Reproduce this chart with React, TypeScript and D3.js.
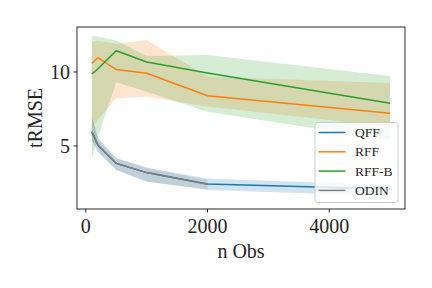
import React from "react";
import * as d3 from "d3";

// n observations
const nObs = [100, 200, 500, 1000, 2000, 5000];
const nObsOdin = [100, 200, 500, 1000, 2000];

// mean tRMSE and band (lower / upper) per method
const qffMean = [5.95, 5.05, 3.82, 3.2, 2.43, 2.09];
const qffLow = [5.35, 4.6, 3.38, 2.6, 2.03, 1.62];
const qffHigh = [6.95, 5.5, 4.17, 3.53, 2.8, 2.36];

const rffMean = [10.59, 10.97, 10.16, 9.91, 8.4, 7.21];
const rffLow = [6.2, 6.8, 8.22, 8.33, 7.66, 6.3];
const rffHigh = [12.05, 12.1, 11.9, 12.16, 9.68, 9.25];

const rffbMean = [9.86, 10.22, 11.44, 10.68, 9.93, 7.88];
const rffbLow = [4.1, 5.6, 9.3, 8.67, 7.32, 5.4];
const rffbHigh = [12.45, 12.4, 12.12, 11.08, 11.15, 9.73];

const odinMean = [5.97, 5.07, 3.83, 3.2, 2.41];
const odinLow = [5.4, 4.62, 3.38, 2.59, 2.07];
const odinHigh = [6.98, 5.52, 4.17, 3.53, 2.7];

const xTicks = [0, 2000, 4000];
const yTicks = [5, 10];

const series = [
  { name: "QFF", color: "#1f77b4", xs: nObs, mean: qffMean, low: qffLow, high: qffHigh },
  { name: "RFF", color: "#ff7f0e", xs: nObs, mean: rffMean, low: rffLow, high: rffHigh },
  { name: "RFF-B", color: "#2ca02c", xs: nObs, mean: rffbMean, low: rffbLow, high: rffbHigh },
  { name: "ODIN", color: "#7f7f7f", xs: nObsOdin, mean: odinMean, low: odinLow, high: odinHigh },
];

const W = 432;
const H = 288;
const box = { left: 77, right: 405, top: 27, bottom: 209 };
const font = "'Liberation Serif', 'DejaVu Serif', serif";

export default function App() {
  const x = d3.scaleLinear().domain([-145, 5245]).range([box.left, box.right]);
  const y = d3.scaleLinear().domain([0.74, 13.04]).range([box.bottom, box.top]);

  const shapes = series.map((s) => {
    const idx = s.xs.map((_, i) => i);
    const area = d3
      .area<number>()
      .x((i) => x(s.xs[i]))
      .y0((i) => y(s.low[i]))
      .y1((i) => y(s.high[i]));
    const path = d3
      .line<number>()
      .x((i) => x(s.xs[i]))
      .y((i) => y(s.mean[i]));
    return { ...s, band: area(idx) || "", line: path(idx) || "" };
  });

  return (
    <svg
      width={W}
      height={H}
      style={{ position: "absolute", left: 0, top: 0, background: "#fff" }}
      fontFamily={font}
    >
      <defs>
        <clipPath id="plot">
          <rect x={box.left} y={box.top} width={box.right - box.left} height={box.bottom - box.top} />
        </clipPath>
      </defs>
      <g clipPath="url(#plot)">
        {shapes.map((s) => (
          <path key={s.name} d={s.band} fill={s.color} fillOpacity={0.2} />
        ))}
        {shapes.map((s) => (
          <path key={s.name} d={s.line} fill="none" stroke={s.color} strokeWidth={1.5} />
        ))}
      </g>
      <rect
        x={box.left}
        y={box.top}
        width={box.right - box.left}
        height={box.bottom - box.top}
        fill="none"
        stroke="#262626"
        strokeWidth={1}
      />
      {xTicks.map((t) => (
        <g key={t} transform={`translate(${x(t)},${box.bottom})`}>
          <line y2={3.5} stroke="#262626" />
          <text y={24} textAnchor="middle" fontSize={20} fill="#262626">
            {t}
          </text>
        </g>
      ))}
      {yTicks.map((t) => (
        <g key={t} transform={`translate(${box.left},${y(t)})`}>
          <line x2={-3.5} stroke="#262626" />
          <text x={-7} y={7} textAnchor="end" fontSize={20} fill="#262626">
            {t}
          </text>
        </g>
      ))}
      <text x={241} y={258} textAnchor="middle" fontSize={20} fill="#262626">
        n Obs
      </text>
      <text
        transform={`translate(41.5,118) rotate(-90)`}
        textAnchor="middle"
        fontSize={20}
        fill="#262626"
      >
        tRMSE
      </text>
      <g transform="translate(315,122.5)">
        <rect width={83} height={80} rx={3} fill="#fff" fillOpacity={0.8} stroke="#cccccc" strokeWidth={1} />
        {series.map((s, i) => (
          <g key={s.name} transform={`translate(0,${10 + i * 19.3})`}>
            <line x1={3.5} x2={30.5} stroke={s.color} strokeWidth={1.5} />
            <text x={40} y={4.5} fontSize={13.5} fill="#262626">
              {s.name}
            </text>
          </g>
        ))}
      </g>
    </svg>
  );
}
